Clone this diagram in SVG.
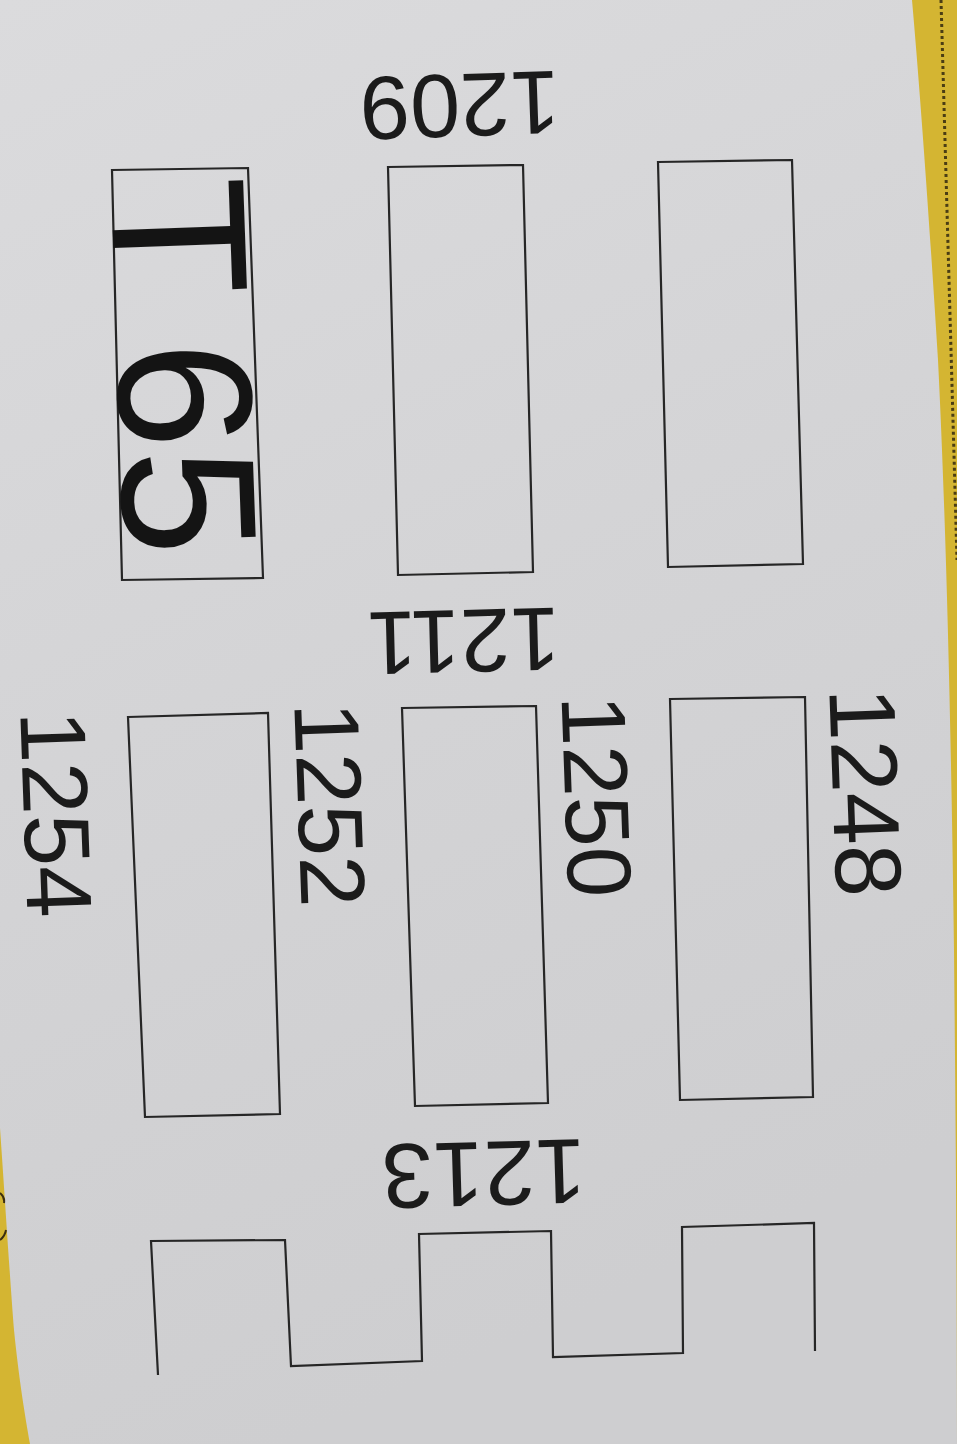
<svg xmlns="http://www.w3.org/2000/svg" width="957" height="1444" viewBox="0 0 957 1444">
  <defs>
    <linearGradient id="paper" x1="0" y1="0" x2="0.3" y2="1">
      <stop offset="0" stop-color="#dbdbdd"/>
      <stop offset="0.5" stop-color="#d4d4d6"/>
      <stop offset="1" stop-color="#cecED0"/>
    </linearGradient>
    <style>
      .box { fill: none; stroke: #262626; stroke-width: 2.2; stroke-linejoin: miter; }
      .num { font-family: "Liberation Sans", Arial, sans-serif; fill: #1b1b1b; text-anchor: middle; }
      .big { font-family: "Liberation Sans", Arial, sans-serif; fill: #141414; font-size: 192px; }
      .yellow { fill: #d4b532; }
    </style>
  </defs>

  <!-- paper -->
  <rect x="0" y="0" width="957" height="1444" fill="url(#paper)"/>

  <!-- yellow edges -->
  <path class="yellow" d="M912,0 C920,90 930,230 938,360 C946,520 951,720 954,950 C956,1150 957,1300 957,1444 L957,0 Z"/>
  <path d="M941,0 L957,560" fill="none" stroke="#4a3d14" stroke-width="3" stroke-dasharray="3 3"/>
  <path class="yellow" d="M0,1128 C5,1200 10,1280 14,1330 C19,1380 25,1415 30,1444 L0,1444 Z"/>
  <path d="M0,1193 Q5,1197 4,1203 M0,1240 Q5,1236 6,1230" fill="none" stroke="#3a2d10" stroke-width="2"/>

  <!-- fuse slots -->
  <g id="slot-t65">
    <polygon class="box" points="112,170 248,168 263,578 122,580"/>
    <text class="big" transform="translate(111,180.6) rotate(88)">T<tspan dx="46">65</tspan></text>
  </g>
  <g id="slot-1209-1211">
    <polygon class="box" points="388,167 523,165 533,572 398,575"/>
  </g>
  <g id="slot-top-right">
    <polygon class="box" points="658,162 792,160 803,564 668,567"/>
  </g>
  <g id="slot-1248">
    <polygon class="box" points="670,699 805,697 813,1097 680,1100"/>
  </g>
  <g id="slot-1250">
    <polygon class="box" points="402,708 536,706 548,1103 415,1106"/>
  </g>
  <g id="slot-1252">
    <polygon class="box" points="128,717 268,713 280,1114 145,1117"/>
  </g>
  <g id="slot-row-bottom">
    <path class="box" d="M158,1375 L151,1241 L285,1240 L291,1366 L422,1361 L419,1234 L551,1231 L553,1357 L683,1353 L682,1227 L814,1223 L815,1351"/>
  </g>

  <!-- labels -->
  <g id="labels">
    <text class="num" font-size="90" x="454" y="138.7" transform="rotate(178 457 106.5)">1209</text>
    <text class="num" font-size="90" x="470.3" y="674.2" transform="rotate(178.5 467 642)">1211</text>
    <text class="num" font-size="92" x="478" y="1208" transform="rotate(178.3 481 1175)">1213</text>
    <text class="num" font-size="94" x="863.5" y="828.6" transform="rotate(88 866.5 795)">1248</text>
    <text class="num" font-size="91" x="594.5" y="831.5" transform="rotate(88 597.5 799)">1250</text>
    <text class="num" font-size="92" x="328" y="840.5" transform="rotate(88 331 807.5)">1252</text>
    <text class="num" font-size="93" x="54" y="850" transform="rotate(88 57 817)">1254</text>
  </g>
</svg>
